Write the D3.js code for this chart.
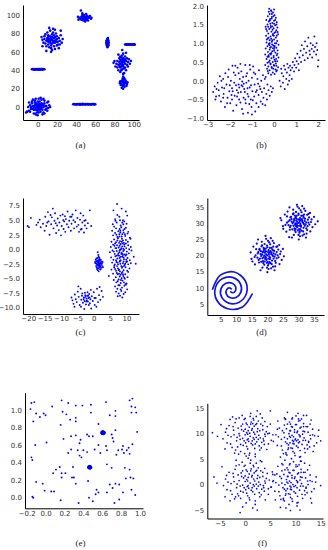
<!DOCTYPE html>
<html>
<head>
<meta charset="utf-8">
<script src="https://cdn.jsdelivr.net/npm/d3@7"></script>
<style>
  body { margin: 0; background: #fff; }
  .axis text { font-family: "DejaVu Sans", sans-serif; font-size: 7px; fill: #333; }
  .axis path { stroke: #000; stroke-width: 1; }
  .caption { font-family: "Liberation Serif", serif; font-size: 9px; fill: #222; }
</style>
</head>
<body>
<div id="chart"></div>
<script>
// ---- (a) ----
var aXTicks = [0, 20, 40, 60, 80, 100];
var aYTicks = [0, 20, 40, 60, 80, 100];
var aBlobLow = [[0,1],[2,0],[-1,3],[1,-2],[3,2],[-2,-1],[4,-1],[-3,2],[1,4],[0,-4],[5,3],[-4,-3],[2,6],[-5,1],[6,0],[-1,-6],[3,-5],[-6,4],[7,4],[-7,-2],[8,-3],[-3,7],[4,8],[-8,2],[9,1],[1,9],[-2,-8],[6,-6],[-9,-4],[10,5],[-10,0],[11,-1],[12,2],[-11,-5],[5,-8],[-4,-7],[7,7],[-6,6],[2,3],[-1,1],[3,-2],[-3,-3],[1,2],[0,-1],[4,4],[-4,0],[2,-3],[-2,4],[6,2],[-5,-2],[5,-3],[-3,5],[0,6],[1,-6],[8,1],[-7,0],[9,-2],[-8,-5],[3,10],[-2,9],[13,0],[10,-4],[-12,-6],[6,9],[-9,5],[7,-7],[0,-9],[11,6],[-5,8],[4,0],[-1,-3],[2,1],[-2,2]];
var aBlobHigh = [[14,73],[16,72],[12,74],[15,76],[13,70],[17,75],[11,71],[18,70],[10,75],[15,79],[14,67],[19,73],[9,72],[16,81],[12,65],[20,77],[8,69],[17,66],[11,78],[21,71],[7,74],[13,83],[18,63],[22,75],[6,70],[15,62],[23,72],[10,81],[19,80],[5,73],[24,78],[9,66],[20,67],[12,86],[4,76],[25,70],[16,85],[8,79],[22,64],[14,60],[26,74],[13,77],[15,69],[12,72],[17,72],[14,75],[11,68],[18,76],[13,74],[16,70],[10,73],[19,71],[15,73],[13,71],[17,78],[11,76],[20,74],[7,77],[21,68],[14,64],[9,61],[24,83],[5,66],[18,84],[23,68]];
var aBlobTop = [[48.5,97],[46.5,96],[50.5,98],[47.5,99],[49.5,95],[45.5,98],[51.5,96],[48.5,100],[44.5,96],[52.5,98],[47.5,94],[50.5,101],[43.5,97],[53.5,97],[46.5,100],[49.5,93],[42.5,95],[54.5,99],[48.5,98],[47.5,97],[49.5,97],[51.5,99],[45.5,95],[50.5,95],[55.5,96],[42,98],[45,105],[52.5,94],[46.5,102],[48.5,95],[56,97]];
var aLineLeft = [[-6,41],[-5,41.3],[-4,40.7],[-3,41.2],[-2,40.8],[-1,41.4],[0,41],[1,40.6],[2,41.3],[3,40.9],[4,41.2],[5,40.7],[6,41.1],[7,41],[-4.5,41.1],[-2.5,41],[-0.5,40.8],[0.5,41.2],[1.5,41],[2.5,40.7],[3.5,41.4],[4.5,41],[5.5,41.3],[-3.5,40.9],[-1.5,41.1]];
var aLineBottom = [[37,3],[38,3.2],[39,2.8],[40,3.1],[41,2.7],[42,3.3],[43,3],[44,2.6],[45,3.2],[46,2.9],[47,3.4],[48,3],[49,2.7],[50,3.2],[51,2.9],[52,3.3],[53,2.8],[54,3.1],[55,3],[56,2.7],[57,3.3],[58,3],[59,2.8],[60,3.1],[40.5,3],[43.5,3.2],[46.5,2.8],[49.5,3],[52.5,3.1],[55.5,2.9],[58.5,3.2]];
var aBarMid = [[72.5,70],[73.5,71],[71.5,69],[73,73],[72,67],[73.5,68],[72.5,74],[71.5,72],[74,70],[72.5,66],[72,71],[73,69],[73.5,72.5],[72.3,68],[72.7,65],[73.1,75],[71.9,70.5],[73.7,67],[72.5,71.5],[72.9,68.5]];
var aLineRight = [[91,68],[92,68.2],[93,67.8],[94,68.1],[95,67.9],[96,68.3],[97,68],[98,67.7],[99,68.2],[100,68],[101,67.8],[92.5,68],[94.5,68.1],[96.5,67.9],[98.5,68],[100.5,68.2]];
var aBlobRight = [[88,48],[87,50],[89,46],[86,47],[90,49],[88,52],[87,44],[91,47],[85,49],[89,53],[86,43],[92,50],[84,46],[90,42],[88,56],[85,53],[93,46],[83,50],[91,55],[87,40],[94,49],[82,47],[89,58],[86,38],[95,52],[81,44],[90,37],[84,57],[96,47],[88,62],[80,50],[92,40],[88,45],[89,50],[87,47],[90,51],[86,51],[89,44],[91,52],[85,45],[88,41],[87,54],[93,53],[83,43],[91,43],[86,55],[94,44],[84,40],[89,36],[97,50],[79,48],[92,59]];
var aBlobSmall = [[89.5,26.5],[88,27],[91,26],[89,29],[90,24],[87,25],[92,28],[88.5,31],[90.5,22],[86,28],[93,25],[89,33],[87.5,21],[91,30],[86.5,24],[92.5,23],[88,29],[90,27.5],[89,24.5],[91.5,27],[87,27.5],[90,31.5],[88.5,23],[93.5,27],[85.5,26],[89,20]];

// ---- (b) ----
var bXTicks = [-3, -2, -1, 0, 1, 2];
var bYTicks = [-1.0, -0.5, 0.0, 0.5, 1.0, 1.5, 2.0];
var bColumn = [[-0.12,1.85],[-0.05,1.82],[-0.2,1.78],[0.02,1.75],[-0.28,1.72],[-0.1,1.7],[0.08,1.68],[-0.18,1.65],[-0.35,1.62],[0.0,1.6],[-0.24,1.58],[0.12,1.56],[-0.08,1.54],[-0.3,1.5],[0.05,1.48],[-0.15,1.46],[-0.38,1.44],[0.15,1.42],[-0.02,1.4],[-0.22,1.38],[0.1,1.35],[-0.32,1.33],[-0.12,1.31],[0.02,1.28],[-0.26,1.26],[0.18,1.24],[-0.06,1.22],[-0.36,1.2],[-0.16,1.18],[0.08,1.15],[-0.28,1.13],[0.0,1.1],[-0.2,1.08],[0.14,1.06],[-0.1,1.04],[-0.34,1.02],[0.04,1.0],[-0.24,0.98],[0.2,0.96],[-0.04,0.94],[-0.3,0.92],[-0.14,0.9],[0.1,0.88],[-0.38,0.86],[0.0,0.85],[-0.2,0.83],[0.16,0.81],[-0.08,0.79],[-0.28,0.77],[0.06,0.75],[-0.18,0.72],[-0.4,0.7],[0.12,0.68],[-0.02,0.66],[-0.24,0.64],[0.2,0.62],[-0.12,0.6],[-0.34,0.58],[0.02,0.56],[-0.2,0.54],[0.14,0.52],[-0.06,0.5],[-0.3,0.48],[0.08,0.46],[-0.16,0.44],[-0.4,0.42],[0.0,0.4],[-0.26,0.38],[0.18,0.36],[-0.1,0.34],[-0.32,0.32],[0.06,0.3],[-0.2,0.28],[0.1,0.25],[-0.06,0.22],[-0.26,0.2],[0.02,0.18],[-0.14,1.88],[0.0,1.9],[-0.24,1.84],[-0.03,1.72],[-0.17,1.52],[-0.07,1.36],[-0.27,1.44],[0.07,1.3],[-0.13,1.12],[0.03,0.93],[-0.09,0.97],[0.01,0.9],[-0.05,0.87],[-0.15,0.7],[0.09,0.58],[-0.23,0.5],[-0.01,0.42],[-0.11,0.37],[0.13,0.28],[-0.19,1.62],[-0.33,1.1],[-0.21,0.95],[0.11,1.5],[-0.11,1.66],[-0.01,1.2],[0.05,1.62],[-0.25,0.68],[0.15,0.72],[-0.1,1.78],[-0.2,1.6],[0.0,1.52],[-0.15,1.42],[-0.05,1.25],[-0.25,1.15],[-0.08,1.08],[0.1,1.0],[-0.18,0.88],[0.0,0.8],[-0.12,0.74],[-0.3,0.64],[0.05,0.52],[-0.16,0.46],[-0.04,0.32],[-0.22,1.92],[-0.08,1.45],[0.12,1.2],[-0.2,1.0],[-0.02,0.62],[0.1,0.4],[-0.28,0.26],[-0.14,0.16],[0.16,1.3],[-0.36,1.38]];
var bCloud = [[-2.75,-0.3],[-2.68,-0.15],[-2.62,-0.42],[-2.55,-0.05],[-2.5,-0.25],[-2.45,0.12],[-2.4,-0.55],[-2.35,-0.18],[-2.3,0.05],[-2.28,-0.35],[-2.22,-0.7],[-2.2,0.2],[-2.15,-0.1],[-2.1,-0.45],[-2.05,0.3],[-2.02,-0.28],[-1.98,-0.6],[-1.95,0.0],[-1.9,-0.2],[-1.88,0.4],[-1.85,-0.8],[-1.8,-0.05],[-1.78,-0.4],[-1.75,0.15],[-1.7,-0.65],[-1.68,-0.25],[-1.65,0.35],[-1.6,-0.1],[-1.58,-0.5],[-1.55,0.05],[-1.5,-0.3],[-1.48,0.25],[-1.45,-0.75],[-1.42,-0.15],[-1.4,0.1],[-1.38,-0.45],[-1.35,-0.22],[-1.3,0.42],[-1.28,-0.6],[-1.25,-0.05],[-1.22,0.2],[-1.2,-0.35],[-1.18,-0.85],[-1.15,0.0],[-1.1,-0.18],[-1.08,0.3],[-1.05,-0.5],[-1.02,-0.7],[-1.0,0.08],[-0.98,-0.28],[-0.95,0.38],[-0.9,-0.42],[-0.88,-0.1],[-0.85,0.18],[-0.8,-0.6],[-0.78,-0.25],[-0.75,0.05],[-0.7,-0.38],[-0.68,0.28],[-0.65,-0.15],[-0.6,-0.55],[-0.58,0.0],[-0.55,-0.3],[-0.5,0.15],[-0.48,-0.45],[-0.45,-0.2],[-0.4,-0.65],[-0.38,0.1],[-0.35,-0.35],[-0.3,-0.1],[-0.25,-0.25],[-0.2,-0.4],[-0.15,-0.15],[-0.1,-0.3],[-0.05,-0.2],[-2.6,-0.22],[-2.48,-0.4],[-2.38,0.0],[-2.25,-0.2],[-2.12,-0.6],[-2.08,0.1],[-1.92,-0.38],[-1.82,0.22],[-1.72,-0.12],[-1.62,-0.32],[-1.52,-0.58],[-1.44,-0.02],[-1.32,-0.3],[-1.26,0.12],[-1.16,-0.42],[-1.12,-0.62],[-1.04,-0.12],[-0.96,-0.52],[-0.92,0.22],[-0.82,-0.3],[-0.72,-0.08],[-0.62,-0.22],[-0.52,-0.62],[-0.42,0.05],[-0.32,-0.5],[-1.57,-0.18],[-1.47,-0.12],[-1.37,-0.08],[-1.67,-0.42],[-1.87,-0.28],[-2.0,-0.12],[-1.2,-0.2],[-1.3,-0.5],[-1.6,0.2],[-1.9,-0.5],[-2.3,-0.45],[-1.0,-0.9],[-1.4,-0.88],[-0.7,-0.7],[-1.75,0.4],[-2.65,-0.5],[-0.85,-0.82],[-1.1,0.42],[-1.52,0.45]];
var bDiagonal = [[0.25,0.0],[0.3,-0.15],[0.35,0.2],[0.4,-0.05],[0.42,0.12],[0.48,-0.22],[0.5,0.3],[0.55,0.05],[0.58,0.22],[0.62,-0.1],[0.65,0.35],[0.7,0.15],[0.72,0.4],[0.75,0.28],[0.8,0.05],[0.82,0.35],[0.85,0.5],[0.9,0.25],[0.92,0.42],[0.95,0.6],[1.0,0.35],[1.02,0.52],[1.05,0.72],[1.1,0.45],[1.12,0.28],[1.15,0.62],[1.2,0.8],[1.22,0.5],[1.25,0.95],[1.3,0.68],[1.35,0.85],[1.38,0.55],[1.4,1.05],[1.45,0.75],[1.5,0.92],[1.52,0.6],[1.55,1.15],[1.6,0.8],[1.62,0.7],[1.65,1.0],[1.7,0.85],[1.72,0.62],[1.75,0.95],[1.8,0.78],[1.82,1.18],[1.85,0.9],[1.9,0.7],[1.92,1.0],[1.95,0.82],[2.0,0.55],[1.98,0.38],[0.6,0.45],[0.45,0.4],[0.68,0.0],[0.32,0.32]];

// ---- (c) ----
var cXTicks = [-20, -15, -10, -5, 0, 5, 10];
var cYTicks = [-10.0, -7.5, -5.0, -2.5, 0.0, 2.5, 5.0, 7.5];
var cTopLeft = [[-20.2,4.0],[-19.8,3.8],[-19.2,5.4],[-17.5,4.2],[-17.0,4.6],[-16.5,5.1],[-16.2,3.8],[-15.5,4.4],[-15.0,3.2],[-14.8,5.6],[-14.5,4.0],[-14.0,6.4],[-13.8,4.8],[-13.5,2.5],[-13.2,5.9],[-13.0,4.3],[-12.5,7.0],[-12.3,3.6],[-12.0,4.9],[-11.8,6.2],[-11.5,2.8],[-11.2,4.1],[-11.0,5.3],[-10.7,3.3],[-10.5,4.6],[-10.2,5.8],[-10.0,2.4],[-9.8,4.0],[-9.5,6.0],[-9.2,3.5],[-9.0,4.8],[-8.7,3.0],[-8.5,5.2],[-8.2,4.3],[-8.0,6.5],[-7.7,3.8],[-7.5,4.9],[-7.2,5.6],[-7.0,3.2],[-6.8,4.4],[-6.5,6.0],[-6.2,5.0],[-6.0,3.6],[-5.7,4.7],[-5.5,6.7],[-5.2,3.9],[-5.0,5.4],[-4.7,4.2],[-4.5,3.0],[-4.2,5.1],[-4.0,6.2],[-3.7,3.5],[-3.5,4.6],[-3.2,5.8],[-3.0,2.9],[-2.7,4.1],[-2.5,5.0],[-2.2,3.6],[-1.8,4.5],[-1.2,6.7],[-0.8,4.0],[-12.8,5.5],[-9.3,5.0],[-6.8,5.6],[-8.8,5.7],[-14.2,4.6],[-11.6,4.5],[-4.0,3.4],[-2.9,4.9]];
var cSmall = [[1.5,-2.5],[1.2,-2.2],[1.8,-2.8],[1.0,-2.6],[2.0,-2.3],[1.4,-1.9],[1.6,-3.1],[0.8,-2.1],[2.2,-2.7],[1.3,-3.3],[1.7,-1.7],[0.7,-2.9],[2.4,-2.1],[1.1,-1.5],[1.9,-3.4],[0.5,-2.4],[2.6,-2.9],[1.5,-1.3],[1.2,-3.6],[2.1,-1.8],[0.9,-3.1],[2.3,-3.2],[1.6,-2.0],[1.3,-2.7],[1.8,-2.4],[1.0,-2.0],[2.0,-3.0],[1.4,-2.3],[1.7,-2.6],[1.1,-2.8],[1.9,-2.0],[0.6,-1.8],[2.5,-2.5],[1.5,-3.8],[1.2,-0.5],[1.4,-1.0],[0.4,-2.2],[2.8,-3.1],[1.6,-2.8],[1.3,-2.1],[1.8,-3.0],[0.9,-2.5],[2.2,-2.4],[1.0,-3.4],[2.1,-3.5],[1.7,-1.5],[0.8,-1.6],[2.7,-2.2]];
var cTall = [[7.1,7.8],[6.0,6.7],[9.8,6.5],[8.5,7.0],[6.5,5.2],[7.8,5.6],[8.9,5.0],[10.2,5.8],[7.2,5.9],[5.8,4.3],[7.0,4.6],[8.2,4.1],[9.3,4.8],[10.0,4.4],[6.6,4.9],[8.7,4.6],[5.6,3.2],[6.8,3.6],[7.5,3.1],[8.4,3.8],[9.0,3.3],[9.8,3.7],[10.5,3.0],[7.9,3.5],[6.2,3.9],[5.9,2.4],[6.5,2.8],[7.2,2.1],[7.8,2.6],[8.5,2.2],[9.1,2.9],[9.6,2.3],[10.3,2.7],[11.0,2.0],[8.1,2.9],[6.9,2.5],[5.4,1.3],[6.2,1.7],[6.8,1.2],[7.4,1.9],[8.0,1.4],[8.6,1.8],[9.2,1.1],[9.8,1.6],[10.4,1.3],[11.2,1.8],[7.7,1.1],[8.9,1.5],[6.5,1.0],[5.2,0.4],[5.9,0.8],[6.6,0.2],[7.1,0.7],[7.6,0.3],[8.2,0.9],[8.7,0.5],[9.3,0.8],[9.9,0.2],[10.5,0.7],[11.3,0.4],[7.9,0.6],[9.0,0.1],[6.3,0.6],[8.4,0.2],[4.9,-0.5],[5.7,-0.2],[6.4,-0.8],[7.0,-0.3],[7.5,-0.7],[8.0,-0.1],[8.5,-0.6],[9.0,-0.3],[9.5,-0.9],[10.1,-0.4],[10.7,-0.7],[11.5,-0.2],[7.8,-0.5],[8.8,-0.8],[6.1,-0.4],[9.3,-0.1],[5.3,-1.4],[6.0,-1.8],[6.6,-1.2],[7.2,-1.6],[7.7,-1.1],[8.2,-1.9],[8.7,-1.3],[9.2,-1.7],[9.7,-1.1],[10.3,-1.5],[11.0,-1.9],[12.2,-1.3],[7.9,-1.5],[8.9,-1.0],[6.8,-1.9],[9.9,-1.8],[5.6,-2.3],[6.3,-2.8],[6.9,-2.2],[7.4,-2.6],[7.9,-2.1],[8.4,-2.9],[8.9,-2.4],[9.4,-2.7],[9.9,-2.2],[10.5,-2.6],[11.3,-2.4],[12.8,-2.5],[8.1,-2.5],[7.1,-2.9],[9.1,-2.1],[5.4,-3.5],[6.2,-3.1],[6.8,-3.7],[7.4,-3.3],[8.0,-3.8],[8.6,-3.2],[9.1,-3.6],[9.7,-3.1],[10.2,-3.7],[10.9,-3.3],[7.7,-3.5],[8.8,-3.9],[6.5,-3.4],[4.6,-4.6],[5.9,-4.2],[6.7,-4.8],[7.3,-4.3],[7.9,-4.7],[8.5,-4.1],[9.0,-4.6],[9.6,-4.3],[10.3,-4.8],[8.2,-4.4],[7.0,-4.1],[9.3,-4.9],[6.1,-5.3],[6.9,-5.7],[7.6,-5.2],[8.2,-5.8],[8.8,-5.4],[9.5,-5.1],[10.0,-5.9],[7.3,-5.5],[8.5,-5.0],[9.2,-5.7],[6.5,-6.4],[7.2,-6.8],[7.9,-6.2],[8.6,-6.6],[9.3,-6.3],[10.2,-6.9],[8.2,-6.9],[9.8,-6.1],[6.8,-7.3],[7.6,-7.6],[8.4,-7.2],[9.1,-7.7],[8.0,-8.0],[9.6,-7.4],[8.7,-8.3],[7.3,-8.1],[8.3,0.0],[7.4,-1.0],[9.4,0.5],[8.0,-2.0],[8.8,1.0],[7.2,1.5],[9.6,-2.5],[8.6,-3.0],[7.8,2.2],[9.1,-1.4],[8.4,-0.8],[7.6,-3.6],[9.5,2.6],[8.1,3.2],[6.9,0.2],[10.0,-0.9],[8.9,-4.3],[7.3,-2.3],[9.8,1.0],[8.5,1.3],[7.9,-0.2],[9.2,-2.9],[8.2,-1.3],[7.0,-1.1],[10.2,-2.1],[8.7,2.6],[7.7,-4.2],[9.4,3.5],[8.3,-5.3],[9.0,4.3],[6.4,-2.6],[10.8,0.0],[8.0,5.0],[9.6,-6.0],[7.5,-6.2],[10.5,-3.9]];
var cBottom = [[-6.8,-8.3],[-6.5,-8.8],[-6.2,-9.4],[-5.8,-7.8],[-5.5,-8.6],[-5.2,-9.1],[-4.9,-7.3],[-4.6,-8.2],[-4.3,-9.6],[-4.0,-6.8],[-3.8,-8.7],[-3.5,-7.6],[-3.3,-9.2],[-3.0,-8.3],[-2.8,-8.9],[-2.6,-7.9],[-2.4,-9.5],[-2.2,-8.5],[-2.0,-8.0],[-1.8,-9.0],[-1.6,-8.4],[-1.4,-7.7],[-1.2,-9.3],[-1.0,-8.6],[-0.8,-10.2],[-0.6,-8.1],[-0.3,-8.9],[0.0,-7.4],[0.3,-9.6],[0.6,-8.4],[1.0,-6.8],[1.3,-9.1],[1.6,-7.9],[2.0,-8.7],[2.4,-7.2],[2.8,-8.2],[-2.5,-8.2],[-2.1,-8.8],[-1.7,-8.0],[-3.1,-8.6],[-1.5,-9.6],[-2.9,-10.3],[-3.9,-9.9],[-4.7,-6.4],[-1.9,-7.4],[-0.9,-7.0],[0.8,-9.9],[-5.9,-9.9],[-2.3,-9.0],[-1.3,-8.3],[-2.7,-7.5],[-3.6,-8.0],[0.2,-8.4],[1.8,-6.5]];

// ---- (d) ----
var dXTicks = [5, 10, 15, 20, 25, 30, 35];
var dYTicks = [5, 10, 15, 20, 25, 30, 35];
var dBlobMid = [[20,20],[19.2,20.8],[20.9,19.3],[18.8,19.4],[21.3,20.9],[19.7,18.6],[20.4,21.6],[18.3,20.2],[21.8,19.8],[19.5,22.1],[20.7,17.9],[17.9,21.3],[22.2,21.4],[18.6,18.2],[21.5,18.4],[19.9,23.0],[17.6,19.0],[22.6,20.3],[20.2,16.9],[18.1,22.8],[23.0,19.1],[16.9,20.6],[21.9,22.7],[19.0,17.1],[22.7,17.7],[17.3,17.8],[20.6,24.0],[16.4,21.9],[23.5,21.8],[18.4,16.2],[21.2,16.0],[24.1,20.4],[15.9,19.5],[19.6,25.1],[23.8,23.2],[16.6,23.6],[22.3,15.4],[15.2,18.1],[24.6,18.6],[20.0,14.8],[17.0,24.9],[25.0,22.0],[14.6,20.9],[19.4,19.6],[20.5,20.4],[19.8,21.2],[20.3,19.0],[18.9,21.7],[21.0,21.3],[19.3,18.9],[21.6,20.1],[18.5,20.9],[20.8,22.3],[20.1,18.0],[18.0,19.8],[22.0,19.0],[19.1,23.5],[21.4,17.3],[17.5,22.0],[22.9,22.6],[18.7,17.6],[23.3,20.0],[17.2,18.6],[20.9,23.4],[19.9,16.2],[16.2,20.0],[24.3,21.2],[18.2,24.2],[22.5,16.6],[16.0,17.2],[21.7,24.5],[15.5,22.7],[23.9,17.3],[19.4,26.0],[17.8,15.4],[25.3,19.7],[14.9,18.9],[21.1,25.3],[18.3,23.1],[22.1,23.8],[20.4,15.8],[17.1,21.0],[23.6,19.4],[19.0,21.9],[21.9,21.5],[19.6,20.3],[20.6,19.7],[19.0,19.9],[21.2,20.4],[20.3,20.9],[19.5,19.2],[20.8,18.8],[18.6,21.2],[21.6,21.8],[20.0,22.5],[19.1,18.1],[22.3,19.6],[17.8,20.4],[20.4,17.4],[21.4,22.3],[18.4,19.1],[22.0,20.6],[19.3,21.3],[20.7,20.9],[18.8,22.3],[21.0,17.6],[23.0,21.0],[17.4,21.7],[19.8,17.7],[22.5,18.3],[18.0,18.0],[20.2,24.5],[23.2,22.8],[16.8,19.3],[21.8,16.5]];
var dBlobHigh = [[30,30],[29.3,30.7],[30.8,29.2],[28.9,29.5],[31.2,30.8],[29.6,28.7],[30.5,31.5],[28.4,30.3],[31.7,29.7],[29.4,32.2],[30.6,28.0],[27.8,31.2],[32.1,31.3],[28.7,28.3],[31.6,28.5],[30.0,32.9],[27.5,29.1],[32.5,30.2],[30.3,27.0],[28.2,32.7],[32.9,29.0],[26.8,30.5],[31.8,32.6],[29.1,27.2],[32.8,27.8],[27.2,27.9],[30.7,33.9],[26.3,32.0],[33.4,31.7],[28.5,26.3],[31.3,26.1],[34.0,30.3],[25.8,29.4],[29.7,35.0],[33.7,33.1],[26.5,33.5],[32.4,25.5],[25.1,28.2],[34.5,28.7],[30.1,24.9],[27.1,34.8],[35.0,31.9],[24.5,30.8],[29.5,29.7],[30.4,30.3],[29.9,31.1],[30.2,29.1],[29.0,31.6],[31.1,31.2],[29.2,29.0],[31.5,30.0],[28.6,30.8],[30.9,32.2],[30.2,28.1],[28.1,29.9],[32.0,29.1],[29.2,33.4],[31.5,27.4],[27.6,31.9],[32.8,32.5],[28.8,27.7],[33.2,30.1],[27.3,28.7],[31.0,33.3],[30.0,26.3],[26.3,30.1],[34.2,31.1],[28.3,34.1],[32.6,26.7],[26.1,27.3],[31.8,34.4],[25.6,32.6],[33.8,27.4],[29.5,35.6],[27.9,25.5],[35.4,29.6],[25.0,29.0],[31.2,35.2],[28.4,33.0],[32.2,33.7],[30.5,25.9],[27.2,30.9],[33.5,29.5],[29.1,31.8],[31.9,31.4],[36.2,30.5],[24.2,31.5],[27.0,25.6],[29.6,30.3],[30.6,29.7],[29.0,29.9],[31.2,30.4],[30.3,30.9],[29.5,29.2],[30.8,28.8],[28.6,31.2],[31.6,31.8],[30.0,32.5],[29.1,28.1],[32.3,29.6],[27.8,30.4],[30.4,27.4],[31.4,32.3],[28.4,29.1],[32.0,30.6],[29.3,31.3],[30.7,30.9],[28.8,32.3],[31.0,27.6],[33.0,31.0],[27.4,31.7],[29.8,27.7],[32.5,28.3],[28.0,28.0],[30.2,34.5],[33.2,32.8],[26.8,29.3],[31.8,26.5]];
var dSpiralA = [[8.38,9.66],[7.76,9.94],[6.92,9.43],[6.78,8.17],[7.9,7.01],[9.9,7.01],[11.49,8.66],[11.33,11.24],[9.02,13.13],[5.65,12.83],[3.3,10.05],[3.76,6.15],[7.26,3.53],[12.0,4.1],[15.1,8.05]];
var dSpiralB = [[8.22,8.74],[8.84,8.46],[9.68,8.97],[9.82,10.23],[8.7,11.39],[6.7,11.39],[5.11,9.74],[5.27,7.16],[7.58,5.27],[10.95,5.57],[13.3,8.35],[12.84,12.25],[9.34,14.87],[4.9,13.9],[2.4,9.6]];

// ---- (e) ----
var eXTicks = [-0.2, 0.0, 0.2, 0.4, 0.6, 0.8, 1.0];
var eYTicks = [0.0, 0.2, 0.4, 0.6, 0.8, 1.0];
var eNoise = [[-0.15,1.08],[-0.12,1.09],[-0.16,1.01],[-0.10,0.96],[-0.13,0.87],[-0.02,0.96],[0.0,0.94],[0.07,1.04],[0.17,1.11],[0.18,0.98],[0.22,0.95],[0.24,1.08],[0.16,0.83],[0.26,0.89],[0.32,1.05],[0.32,0.91],[0.32,0.87],[0.39,1.05],[0.48,1.06],[0.48,0.97],[0.64,1.09],[0.56,0.84],[0.74,0.99],[0.74,0.93],[0.89,1.11],[0.92,1.13],[0.91,1.04],[0.91,0.97],[0.95,1.03],[0.96,0.97],[0.74,0.77],[0.70,0.72],[0.97,0.75],[0.19,0.67],[0.27,0.70],[0.32,0.71],[0.37,0.66],[0.46,0.70],[0.50,0.70],[0.56,0.60],[0.52,0.55],[0.58,0.51],[0.64,0.59],[0.65,0.54],[0.71,0.68],[0.72,0.64],[0.65,0.38],[0.70,0.34],[0.77,0.54],[0.81,0.55],[0.75,0.49],[0.82,0.59],[0.86,0.54],[0.83,0.51],[0.88,0.57],[0.92,0.61],[0.89,0.50],[-0.11,0.60],[0.01,0.63],[-0.15,0.46],[-0.14,0.43],[0.27,0.55],[0.24,0.51],[0.34,0.54],[0.36,0.48],[0.40,0.54],[0.38,0.46],[0.29,0.35],[0.44,0.52],[0.11,0.32],[0.15,0.35],[0.17,0.28],[0.21,0.28],[0.17,0.23],[0.28,0.23],[0.30,0.23],[0.32,0.16],[0.45,0.19],[0.84,0.34],[0.89,0.32],[0.85,0.22],[0.90,0.23],[0.93,0.22],[-0.10,0.18],[-0.03,0.16],[-0.01,0.08],[0.06,0.07],[0.09,0.07],[0.16,-0.03],[0.35,-0.06],[0.46,0.0],[0.50,-0.04],[0.54,0.09],[0.56,0.06],[0.53,0.04],[0.65,0.06],[0.68,0.15],[0.71,0.11],[0.74,0.16],[0.78,0.15],[0.82,0.06],[0.91,0.09],[0.95,0.03],[0.73,-0.06],[0.78,-0.02],[-0.14,0.01],[-0.13,0.0],[0.36,0.62],[0.44,0.72],[-0.06,0.92],[0.68,0.94],[0.08,0.28]];
var eDenseUpper = [[0.608,0.741],[0.598,0.748],[0.618,0.734],[0.600,0.732],[0.616,0.750],[0.606,0.754],[0.610,0.728],[0.594,0.740],[0.622,0.742],[0.604,0.745],[0.613,0.738],[0.601,0.736],[0.615,0.746]];
var eDenseLower = [[0.467,0.347],[0.458,0.353],[0.476,0.341],[0.460,0.340],[0.474,0.355],[0.466,0.358],[0.469,0.336],[0.455,0.346],[0.479,0.348],[0.463,0.350],[0.471,0.344],[0.462,0.343]];

// ---- (f) ----
var fXTicks = [-5, 0, 5, 10, 15];
var fYTicks = [-5, 0, 5, 10, 15];
var fUpperLeft = [[1.0,9.5],[0.3,10.2],[1.8,8.9],[-0.5,9.1],[2.4,10.4],[0.8,11.3],[1.5,7.8],[-1.2,10.0],[3.0,9.2],[0.1,8.2],[2.1,11.8],[-0.8,11.5],[1.2,12.3],[3.5,10.8],[-1.7,8.6],[0.5,7.0],[2.8,7.6],[-2.3,10.7],[4.0,9.5],[1.6,13.0],[-0.2,12.8],[2.6,12.5],[-1.5,7.4],[3.3,8.3],[0.9,6.2],[-2.8,9.4],[4.4,11.4],[-0.9,6.5],[2.0,6.0],[-3.2,11.6],[1.3,10.7],[0.6,9.0],[1.9,9.9],[-0.3,10.5],[2.3,8.4],[0.0,9.8],[1.4,11.0],[-1.0,8.9],[2.7,9.7],[0.4,11.8],[3.8,7.9],[-2.0,12.2],[2.2,13.4],[-3.6,8.2],[4.8,10.1],[0.2,5.6],[-1.9,6.8],[3.1,11.9],[-2.6,7.3],[1.1,14.0],[5.2,8.7],[-3.9,10.3],[-0.6,13.6],[2.9,6.8],[-4.4,9.0],[0.7,8.5],[1.7,10.3],[-0.4,7.7],[3.6,9.0],[-1.4,11.1],[2.5,11.0],[0.0,10.9],[1.2,8.1],[-2.2,9.8],[3.9,12.4],[-6.5,10.2],[-5.5,9.5],[-4.8,11.8],[1.5,12.0],[0.9,10.1],[-1.1,9.6],[2.0,8.0],[-3.0,12.8],[4.3,6.9],[-0.1,6.1],[2.4,14.5],[-4.0,7.0],[3.4,13.1],[-2.5,13.3],[5.0,11.9],[0.5,9.9],[1.6,9.2],[-0.2,8.6],[2.9,10.6],[0.2,12.1],[1.9,7.1],[-1.6,9.3],[3.7,8.6],[-0.7,10.8],[1.0,13.4],[2.3,12.0],[-2.4,11.4],[4.2,10.4],[0.8,5.8],[-1.3,6.0],[3.0,13.9],[-3.4,9.7],[1.4,8.6],[2.2,9.3],[-0.5,11.9],[0.6,10.6],[3.2,7.2],[-2.9,8.0],[1.8,11.5],[-1.8,12.9],[4.6,8.0],[0.3,7.5],[2.6,8.9],[-0.9,7.9],[1.1,11.9],[-3.7,11.0],[3.5,11.6],[0.0,13.0],[2.0,5.5],[-2.1,6.2],[5.5,9.8],[1.7,12.7],[-1.2,13.1],[3.9,9.9],[0.4,8.8]];
var fUpperRight = [[10.0,9.0],[9.3,9.7],[10.8,8.4],[9.5,8.1],[11.4,9.9],[9.8,10.8],[10.5,7.3],[8.8,9.5],[12.0,8.7],[9.1,7.2],[11.1,11.3],[8.2,11.0],[10.2,11.8],[12.5,10.3],[8.3,8.1],[9.5,6.5],[11.8,7.1],[7.7,10.2],[13.0,9.0],[10.6,12.5],[8.8,12.3],[11.6,12.0],[8.5,6.9],[12.3,7.8],[9.9,5.7],[7.2,8.9],[13.4,10.9],[8.1,6.0],[11.0,5.5],[6.8,11.1],[10.3,10.2],[9.6,8.5],[10.9,9.4],[8.7,10.0],[11.3,7.9],[9.0,9.3],[10.4,10.5],[8.0,8.4],[11.7,9.2],[9.4,11.3],[12.8,7.4],[7.8,11.7],[11.2,12.9],[6.4,7.7],[13.8,9.6],[9.2,5.1],[8.1,6.3],[12.1,11.4],[7.4,6.8],[10.1,13.5],[14.2,8.2],[6.1,9.8],[9.4,13.1],[11.9,6.3],[5.6,8.5],[9.7,8.0],[10.7,9.8],[8.6,7.2],[12.6,8.5],[8.9,10.6],[11.5,10.5],[9.0,11.9],[10.2,7.6],[7.8,9.3],[12.9,11.9],[5.0,14.5],[13.5,6.5],[10.5,14.0],[6.5,12.5],[14.6,10.7],[4.5,10.0],[8.4,14.2],[12.2,13.6],[11.0,4.6],[9.9,8.8],[10.6,8.2],[8.0,12.8],[13.1,12.7],[7.0,5.4],[15.0,8.6],[9.6,9.4],[10.5,8.8],[8.9,8.2],[11.8,10.4],[9.2,11.4],[10.9,6.7],[8.4,9.0],[12.6,8.3],[9.0,10.6],[10.6,12.9],[11.6,11.4],[7.4,10.6],[13.4,9.8],[9.8,6.2],[8.3,5.8],[11.6,13.6],[6.6,9.4],[10.2,8.6],[10.9,9.6],[8.4,11.9],[9.8,10.3],[12.4,7.0],[7.2,7.6],[10.9,11.1],[8.0,12.9],[13.7,7.6],[9.4,7.1],[11.5,8.7],[8.6,7.8],[10.0,11.8],[6.4,10.9],[12.4,11.4],[9.3,12.9],[10.8,5.4],[7.6,6.1],[14.5,9.5],[10.9,12.6],[7.8,13.1],[12.9,9.7],[9.4,8.7]];
var fLowerLeft = [[1.0,0.3],[0.3,1.0],[1.8,-0.3],[-0.5,-0.1],[2.4,1.2],[0.8,2.1],[1.5,-1.4],[-1.2,0.8],[3.0,0.0],[0.1,-1.0],[2.1,2.6],[-0.8,2.3],[1.2,3.1],[3.5,1.6],[-1.7,-0.6],[0.5,-2.2],[2.8,-1.6],[-2.3,1.5],[4.0,0.3],[1.6,3.8],[-0.2,3.6],[2.6,3.3],[-1.5,-1.8],[3.3,-0.9],[0.9,-3.0],[-2.8,0.2],[4.4,2.2],[-0.9,-2.7],[2.0,-3.2],[-3.2,2.4],[1.3,1.5],[0.6,-0.2],[1.9,0.7],[-0.3,1.3],[2.3,-0.8],[0.0,0.6],[1.4,1.8],[-1.0,-0.3],[2.7,0.5],[0.4,2.6],[3.8,-1.3],[-2.0,3.0],[2.2,4.2],[-3.6,-1.0],[4.8,0.9],[0.2,-3.6],[-1.9,-2.4],[3.1,2.7],[-2.6,-1.9],[1.1,4.8],[5.2,-0.5],[-3.9,1.1],[-0.6,4.4],[2.9,-2.4],[-4.3,-0.2],[0.7,-0.7],[1.7,1.1],[-0.4,-1.5],[3.6,-0.2],[-1.4,1.9],[2.5,1.8],[0.0,1.7],[1.2,-1.1],[-2.2,0.6],[3.9,3.2],[-6.2,1.5],[-5.6,0.3],[-4.6,3.5],[1.5,-4.6],[-0.5,-4.4],[4.0,-3.0],[-3.0,-3.2],[3.3,4.5],[-1.8,4.8],[0.6,5.2],[-4.0,-2.4],[5.5,2.0],[2.4,-5.0],[-1.0,-5.5],[4.6,-1.9],[0.5,0.7],[1.6,0.0],[-0.2,-0.6],[2.9,1.4],[0.2,2.9],[1.9,-1.9],[-1.6,0.1],[3.7,-0.6],[-0.7,1.6],[1.0,4.2],[2.3,2.8],[-2.4,2.2],[4.2,1.2],[0.8,-2.6],[-1.3,-2.2],[3.0,4.7],[-3.4,0.5],[1.4,-0.6],[2.2,0.1],[-0.5,2.7],[0.6,1.4],[3.2,-2.0],[-2.9,-1.2],[1.8,2.3],[-1.8,3.7],[4.6,-0.8],[0.3,-1.7],[2.6,-0.3],[-0.9,-1.3],[1.1,2.7],[-3.7,1.8],[3.5,2.4],[0.0,3.8],[2.0,-3.9],[-2.1,-2.8],[5.5,0.6],[1.7,3.5],[-1.2,3.9],[3.9,0.7],[0.4,-0.4]];
var fLowerRight = [[9.5,0.0],[8.8,0.7],[10.3,-0.6],[9.0,-0.9],[10.9,0.9],[9.3,1.8],[10.0,-1.7],[8.3,0.5],[11.5,-0.3],[8.6,-1.8],[10.6,2.3],[7.7,2.0],[9.7,2.8],[12.0,1.3],[7.8,-0.9],[9.0,-2.5],[11.3,-1.9],[7.2,1.2],[12.5,0.0],[10.1,3.5],[8.3,3.3],[11.1,3.0],[8.0,-2.1],[11.8,-1.2],[9.4,-3.3],[6.7,-0.1],[12.9,1.9],[7.6,-3.0],[10.5,-3.5],[6.3,2.1],[9.8,1.2],[9.1,-0.5],[10.4,0.4],[8.2,1.0],[10.8,-1.1],[8.5,0.3],[9.9,1.5],[7.5,-0.6],[11.2,0.2],[8.9,2.3],[12.3,-1.6],[7.3,2.7],[10.7,3.9],[5.9,-1.3],[13.3,0.6],[8.7,-3.9],[7.6,-2.7],[11.6,2.4],[6.9,-2.2],[9.6,4.5],[13.7,-0.8],[5.6,0.8],[8.9,4.1],[11.4,-2.7],[5.1,-0.5],[9.2,-1.0],[10.2,0.8],[8.1,-1.8],[12.1,-0.5],[8.4,1.6],[11.0,1.5],[8.5,2.9],[9.7,-1.4],[7.3,0.3],[12.4,2.9],[8.1,-4.6],[10.3,-4.2],[13.0,-2.7],[6.5,3.6],[11.8,4.2],[7.0,-4.5],[9.0,-5.1],[14.1,1.5],[6.0,-3.0],[10.9,-5.0],[12.8,3.8],[5.4,2.5],[13.2,-3.6],[7.9,4.8],[15.0,-0.2],[9.1,0.4],[10.0,-0.2],[8.4,-0.8],[11.3,1.4],[8.7,2.4],[10.4,-2.3],[7.9,0.0],[12.1,-0.7],[8.5,1.6],[10.1,3.9],[11.1,2.4],[6.9,1.6],[12.9,0.8],[9.3,-2.8],[7.8,-3.2],[11.1,4.6],[6.1,0.4],[9.7,-0.4],[10.4,0.6],[7.9,2.9],[9.3,1.3],[11.9,-2.0],[6.7,-1.4],[10.4,2.1],[7.5,3.9],[13.2,-1.4],[8.9,-1.9],[11.0,-0.3],[8.1,-1.2],[9.5,2.8],[5.9,1.9],[11.9,2.4],[8.8,3.9],[10.3,-3.6],[7.1,-2.9],[14.0,0.5],[10.4,3.6],[7.3,4.1],[12.4,0.7],[8.9,-0.3]];

// ---- layout ----
var intFmt = d3.format("d"), oneFmt = d3.format(".1f");
var panels = [
  { label: "(a)", left: 23, right: 139, top: 5, bottom: 120, xDomain: [-15.3, 105.5], yDomain: [-14.1, 110.9],
    xTicks: aXTicks, yTicks: aYTicks, xFmt: intFmt, yFmt: intFmt, r: 1.3, cap: [80.5, 148],
    groups: [aBlobLow, aBlobHigh, aBlobTop, aLineLeft, aLineBottom, aBarMid, aLineRight, aBlobRight, aBlobSmall] },
  { label: "(b)", left: 207, right: 325, top: 5, bottom: 120, xDomain: [-3.03, 2.3], yDomain: [-1.045, 2.02],
    xTicks: bXTicks, yTicks: bYTicks, xFmt: intFmt, yFmt: oneFmt, r: 0.95, cap: [261.5, 148],
    groups: [bColumn, bCloud, bDiagonal] },
  { label: "(c)", left: 23, right: 139, top: 198, bottom: 314, xDomain: [-21.6, 13.8], yDomain: [-11.15, 8.83],
    xTicks: cXTicks, yTicks: cYTicks, xFmt: intFmt, yFmt: oneFmt, r: 0.95, cap: [80.5, 335],
    groups: [cTopLeft, cSmall, cTall, cBottom] },
  { label: "(d)", left: 207.3, right: 324, top: 198, bottom: 315, xDomain: [0.69, 38.2], yDomain: [1.6, 37.7],
    xTicks: dXTicks, yTicks: dYTicks, xFmt: intFmt, yFmt: intFmt, r: 1.1, cap: [261.5, 335],
    groups: [dBlobMid, dBlobHigh], lines: [dSpiralA, dSpiralB] },
  { label: "(e)", left: 25, right: 143, top: 392.7, bottom: 508.3, xDomain: [-0.218, 1.032], yDomain: [-0.121, 1.197],
    xTicks: eXTicks, yTicks: eYTicks, xFmt: oneFmt, yFmt: oneFmt, r: 0.95, cap: [80.5, 546],
    groups: [eNoise], dense: [eDenseUpper, eDenseLower] },
  { label: "(f)", left: 207.3, right: 323, top: 403.3, bottom: 518.5, xDomain: [-7.52, 15.46], yDomain: [-6.67, 15.98],
    xTicks: fXTicks, yTicks: fYTicks, xFmt: intFmt, yFmt: intFmt, r: 0.85, cap: [262.5, 546],
    groups: [fUpperLeft, fUpperRight, fLowerLeft, fLowerRight] }
];

var svg = d3.select("#chart").append("svg")
    .attr("width", 328)
    .attr("height", 550);

panels.forEach(function(p) {
  var x = d3.scaleLinear().domain(p.xDomain).range([p.left, p.right]);
  var y = d3.scaleLinear().domain(p.yDomain).range([p.bottom, p.top]);
  var g = svg.append("g");

  if (p.lines) {
    var line = d3.line()
        .x(function(d) { return x(d[0]); })
        .y(function(d) { return y(d[1]); })
        .curve(d3.curveCatmullRom);
    g.selectAll("path.spiral")
      .data(p.lines)
      .enter().append("path")
        .attr("class", "spiral")
        .attr("d", line)
        .attr("fill", "none")
        .attr("stroke", "#1414e6")
        .attr("stroke-width", 1.7)
        .attr("stroke-linecap", "round");
  }

  g.selectAll("circle.pt")
    .data(d3.merge(p.groups))
    .enter().append("circle")
      .attr("class", "pt")
      .attr("cx", function(d) { return x(d[0]); })
      .attr("cy", function(d) { return y(d[1]); })
      .attr("r", p.r)
      .attr("fill", "#0000ff");

  if (p.dense) {
    g.selectAll("circle.dense")
      .data(d3.merge(p.dense))
      .enter().append("circle")
        .attr("class", "dense")
        .attr("cx", function(d) { return x(d[0]); })
        .attr("cy", function(d) { return y(d[1]); })
        .attr("r", 1.5)
        .attr("fill", "#0000ff");
  }

  g.append("g")
      .attr("class", "axis")
      .attr("transform", "translate(0," + p.bottom + ")")
      .call(d3.axisBottom(x).tickValues(p.xTicks).tickFormat(p.xFmt).tickSize(0).tickPadding(2.5))
      .attr("font-size", null).attr("font-family", null);

  g.append("g")
      .attr("class", "axis")
      .attr("transform", "translate(" + p.left + ",0)")
      .call(d3.axisLeft(y).tickValues(p.yTicks).tickFormat(p.yFmt).tickSize(0).tickPadding(3))
      .attr("font-size", null).attr("font-family", null);

  svg.append("text")
      .attr("class", "caption")
      .attr("x", p.cap[0])
      .attr("y", p.cap[1])
      .attr("text-anchor", "middle")
      .text(p.label);
});
</script>
</body>
</html>
